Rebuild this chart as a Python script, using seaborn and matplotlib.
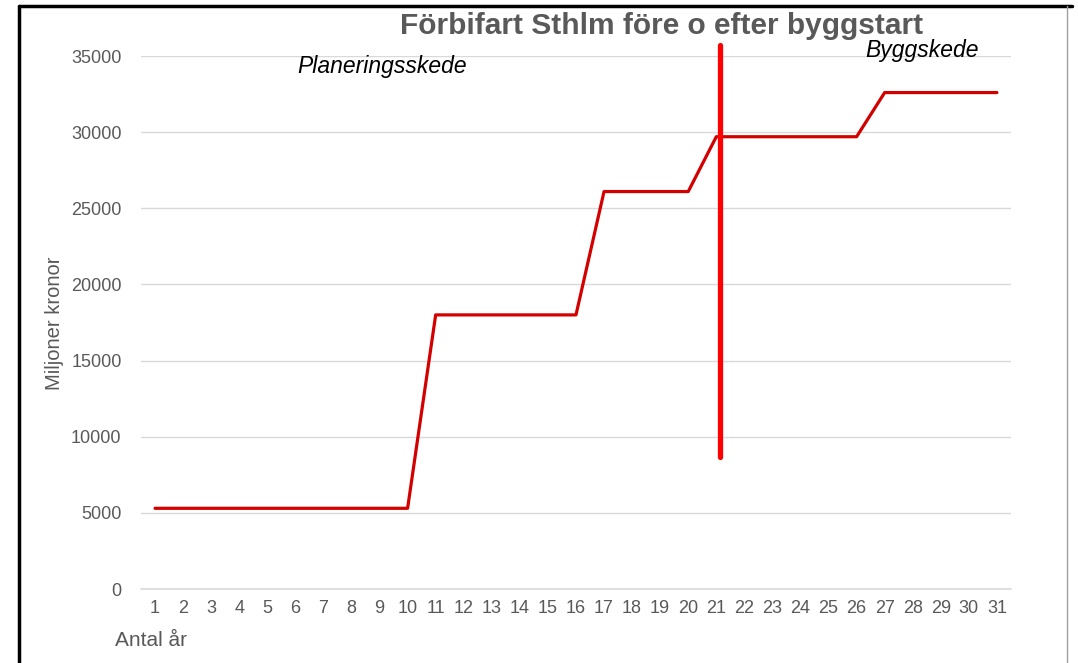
import matplotlib
matplotlib.use("Agg")
import matplotlib.pyplot as plt
import seaborn as sns
import pandas as pd
from matplotlib.lines import Line2D

# data
years = list(range(1, 32))
kostnad = [5300] * 10 + [18000] * 6 + [26100] * 4 + [29700] * 6 + [32600] * 5
byggstart_x = [21.15, 21.15]
byggstart_y = [8700, 35700]
yticks = [0, 5000, 10000, 15000, 20000, 25000, 30000, 35000]

df = pd.DataFrame({"År": years, "Miljoner kronor": kostnad})

sns.set_style("white")
plt.rcParams["font.family"] = ["Liberation Sans", "DejaVu Sans"]
grey = "#595959"

fig = plt.figure(figsize=(10.78, 6.63), dpi=100)
ax = fig.add_axes([0.1308, 0.1116, 0.8070, 0.8039])

sns.lineplot(data=df, x="År", y="Miljoner kronor", ax=ax, color="#d40000", linewidth=2.3)
ax.plot(byggstart_x, byggstart_y, color="#ff0000", linewidth=3.8, clip_on=False, zorder=5)

ax.set_xlim(0.5, 31.5)
ax.set_ylim(0, 35000)
ax.set_xticks(years)
ax.set_yticks(yticks)
ax.tick_params(axis="both", length=0, labelsize=13, colors=grey)
ax.tick_params(axis="x", pad=8)
ax.tick_params(axis="y", pad=14)
ax.grid(axis="y", color="#d9d9d9", linewidth=1)
ax.axhline(0, color="#d9d9d9", linewidth=1.2, clip_on=False, zorder=0)
for s in ax.spines.values():
    s.set_visible(False)
ax.set_xlabel("")
ax.set_ylabel("")

fig.text(55 / 1078, 1 - 323 / 663, "Miljoner kronor", rotation=90, ha="center", va="center",
         fontsize=14.5, color=grey)
fig.text(115 / 1078, 1 - 640 / 663, "Antal år", ha="left", va="center", fontsize=15, color=grey)
fig.text(662 / 1078, 1 - 26 / 663, "Förbifart Sthlm före o efter byggstart", ha="center", va="center",
         fontsize=21.5, fontweight="bold", color=grey)
fig.text(382 / 1078, 1 - 66 / 663, "Planeringsskede", ha="center", va="center",
         fontsize=16.5, style="italic", color="black")
fig.text(922 / 1078, 1 - 50 / 663, "Byggskede", ha="center", va="center",
         fontsize=16.5, style="italic", color="black")

# frame around the picture
fig.add_artist(Line2D([19 / 1078, 19 / 1078], [0, 1 - 6 / 663], transform=fig.transFigure,
                      color="black", linewidth=2.5))
fig.add_artist(Line2D([19 / 1078, 1072 / 1078], [1 - 6 / 663, 1 - 6 / 663], transform=fig.transFigure,
                      color="black", linewidth=2.5))
fig.add_artist(Line2D([1067 / 1078, 1067 / 1078], [0, 1 - 6 / 663], transform=fig.transFigure,
                      color="#a0a0a0", linewidth=1))

fig.savefig("out.png", dpi=100)
